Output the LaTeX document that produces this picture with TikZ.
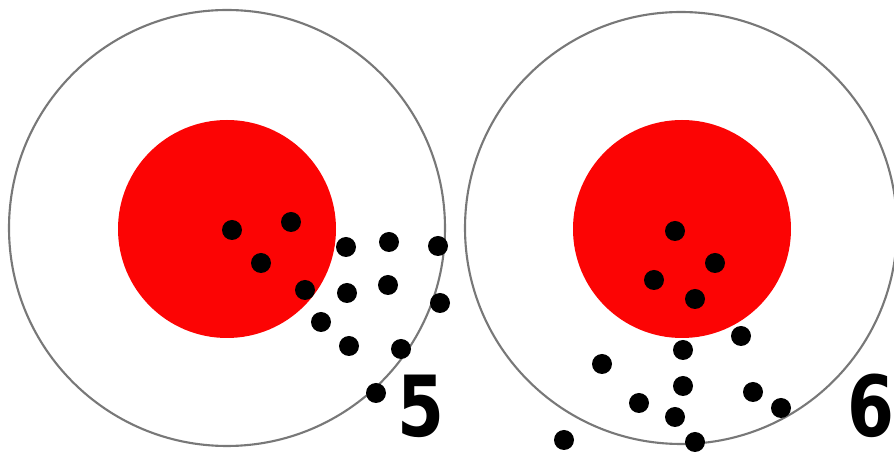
\documentclass[tikz,border=0pt]{standalone}
\usepackage{fontspec}
\setmainfont{DejaVu Sans}
\usepackage{tikz}
\usetikzlibrary{positioning}
\usepackage{xcolor}
\definecolor{ringgray}{RGB}{120,120,120}
\definecolor{bullred}{RGB}{252,4,4}

\tikzset{
  ring/.style={draw=ringgray, line width=1.2pt, fill=white},
  bullseye/.style={fill=bullred},
  hole/.style={fill=black},
  score/.style={inner sep=0pt, font=\bfseries\fontsize{48}{48}\selectfont}
}

\begin{document}
\begin{tikzpicture}[x=0.02cm, y=-0.02cm]
  \useasboundingbox (0,0) rectangle (894,452);
  \begin{scope}
    \clip (0,0) rectangle (894,452);
    % left target
    \draw[ring] (227,228) circle (218);
    \fill[bullseye] (227,229) circle (109);
    \foreach \x/\y in {232/230, 291/222, 261/263, 305/290, 346/247, 389/242, 438/246,
                       347/293, 388/285, 440/303, 321/322, 349/346, 401/349, 376/393}
      \fill[hole] (\x,\y) circle (10);
    % right target
    \draw[ring] (681,228) circle (216);
    \fill[bullseye] (682,229) circle (109);
    \foreach \x/\y in {675/231, 715/263, 654/280, 695/299, 741/336, 683/350, 602/364,
                       683/386, 753/392, 639/403, 781/408, 675/417, 564/440, 695/442}
      \fill[hole] (\x,\y) circle (10);
  \end{scope}
  % scores
  \node[score] (five) at (421,406) {\scalebox{0.8}[1]{5}};
  \node[score, anchor=west] (six) at (847,406) {\scalebox{0.8}[1]{6}};
\end{tikzpicture}
\end{document}
